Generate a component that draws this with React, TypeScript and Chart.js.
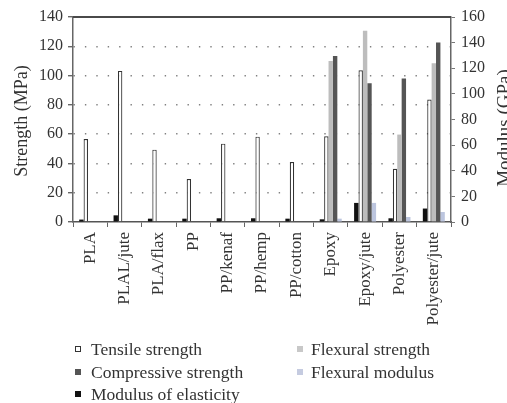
import React, { useEffect, useRef } from "react";
import { Chart, registerables } from "chart.js";

Chart.register(...registerables);

const categories = [
  "PLA",
  "PLAL/jute",
  "PLA/flax",
  "PP",
  "PP/kenaf",
  "PP/hemp",
  "PP/cotton",
  "Epoxy",
  "Epoxy/jute",
  "Polyester",
  "Polyester/jute",
];

// Strength (MPa), left axis
const tensileStrength = [56.7, 103.2, 49.4, 29.3, 53.5, 58.3, 41, 58.5, 103.6, 36.4, 83.7];
const compressiveStrength = [null, null, null, null, null, null, null, 113.4, 94.7, 98, 122.6];
const flexuralStrength = [null, null, null, null, null, null, null, 110, 130.6, 59.7, 108.4];

// Modulus (GPa), right axis
const modulusOfElasticity = [1.9, 5.2, 2.6, 2.6, 2.9, 2.9, 2.6, 2.1, 14.9, 2.9, 10.5];
const flexuralModulus = [null, null, null, null, null, null, null, 2.6, 14.9, 3.9, 7.8];

const strengthAxis = { min: 0, max: 140, step: 20, title: "Strength (MPa)" };
const modulusAxis = { min: 0, max: 160, step: 20, title: "Modulus (GPa)" };

const legendItems = [
  { label: "Tensile strength", color: "#ffffff", border: "#333", col: 0, row: 0 },
  { label: "Compressive strength", color: "#555555", border: "#555555", col: 0, row: 1 },
  { label: "Modulus of elasticity", color: "#111111", border: "#111111", col: 0, row: 2 },
  { label: "Flexural strength", color: "#c8c8c8", border: "#c8c8c8", col: 1, row: 0 },
  { label: "Flexural modulus", color: "#c5cbe0", border: "#c5cbe0", col: 1, row: 1 },
];

const FONT = "'Liberation Serif', 'DejaVu Serif', serif";
const TEXT = "#333333";

const framePlugin = {
  id: "frameAndTitles",
  afterDraw(chart: any) {
    const ctx = chart.ctx;
    const area = chart.chartArea;
    ctx.save();
    ctx.fillStyle = "#4a4a4a";
    ctx.fillRect(area.left, Math.floor(area.top) - 1, area.right - area.left, 2);
    ctx.restore();

    ctx.save();
    ctx.fillStyle = TEXT;
    ctx.textAlign = "center";
    ctx.textBaseline = "alphabetic";
    ctx.font = `18px ${FONT}`;
    ctx.translate(27, 121);
    ctx.rotate(-Math.PI / 2);
    ctx.fillText(strengthAxis.title, 0, 0);
    ctx.restore();

    ctx.save();
    ctx.fillStyle = TEXT;
    ctx.textAlign = "center";
    ctx.textBaseline = "alphabetic";
    ctx.font = `19px ${FONT}`;
    ctx.translate(509.5, 128);
    ctx.rotate(-Math.PI / 2);
    ctx.fillText(modulusAxis.title, 0, 0);
    ctx.restore();
  },
};

export default function App() {
  const ref = useRef<HTMLCanvasElement | null>(null);

  useEffect(() => {
    if (!ref.current) return;
    const chart = new Chart(ref.current, {
      type: "bar",
      data: {
        labels: categories,
        datasets: [
          {
            label: "Modulus of elasticity",
            data: modulusOfElasticity,
            backgroundColor: "#111111",
            yAxisID: "y1",
          },
          {
            label: "Tensile strength",
            data: tensileStrength,
            backgroundColor: "#ffffff",
            borderColor: "#333333",
            borderWidth: 1.2,
            borderSkipped: "bottom",
            yAxisID: "y",
          },
          {
            label: "Flexural strength",
            data: flexuralStrength,
            backgroundColor: "#bdbdbd",
            yAxisID: "y",
          },
          {
            label: "Compressive strength",
            data: compressiveStrength,
            backgroundColor: "#555555",
            yAxisID: "y",
          },
          {
            label: "Flexural modulus",
            data: flexuralModulus,
            backgroundColor: "#bcc5de",
            yAxisID: "y1",
          },
        ] as any,
      },
      options: {
        responsive: false,
        animation: false,
        devicePixelRatio: 1,
        layout: { padding: { top: 17, bottom: 0, left: 0, right: 0 } },
        datasets: {
          bar: { categoryPercentage: 0.64, barPercentage: 1 },
        },
        plugins: {
          legend: { display: false },
          tooltip: { enabled: false },
        },
        scales: {
          x: {
            type: "category",
            position: "bottom",
            offset: true,
            grid: {
              offset: true,
              drawOnChartArea: false,
              drawTicks: true,
              tickLength: 5,
              color: "#666",
            },
            border: { display: true, color: "#555", width: 1.5 },
            ticks: {
              autoSkip: false,
              maxRotation: 90,
              minRotation: 90,
              padding: 5,
              color: TEXT,
              font: { family: FONT, size: 17 },
            },
            afterFit: (scale: any) => {
              scale.height = 181;
            },
          },
          y: {
            type: "linear",
            position: "left",
            min: strengthAxis.min,
            max: strengthAxis.max,
            ticks: {
              stepSize: strengthAxis.step,
              padding: 5,
              color: TEXT,
              font: { family: FONT, size: 16 },
            },
            grid: {
              drawTicks: true,
              tickLength: 5,
              tickColor: "#666",
              tickBorderDash: [],
              color: (c: any) =>
                c.tick && (c.tick.value === 0 || c.tick.value === strengthAxis.max)
                  ? "rgba(0,0,0,0)"
                  : "#808080",
              lineWidth: 1.4,
            },
            border: { display: true, color: "#666", width: 1.5, dash: [1.4, 10] },
            afterFit: (scale: any) => {
              scale.width = 73;
            },
          },
          y1: {
            type: "linear",
            position: "right",
            min: modulusAxis.min,
            max: modulusAxis.max,
            ticks: {
              stepSize: modulusAxis.step,
              padding: 6,
              color: TEXT,
              font: { family: FONT, size: 16 },
            },
            grid: {
              drawOnChartArea: false,
              drawTicks: true,
              tickLength: 4,
              tickColor: "#777",
            },
            border: { display: true, color: "#666", width: 1.5 },
            afterFit: (scale: any) => {
              scale.width = 56;
            },
          },
        },
      } as any,
      plugins: [framePlugin],
    });
    return () => chart.destroy();
  }, []);

  const rowY = [349, 372, 394];
  const markerX = [75, 297];
  const textX = [91, 311];

  return (
    <div
      style={{
        position: "fixed",
        left: 0,
        top: 0,
        width: 507,
        height: 403,
        overflow: "hidden",
        background: "#fff",
      }}
    >
      <canvas ref={ref} width={507} height={403} style={{ position: "absolute", left: 0, top: 0 }} />
      {legendItems.map((it) => (
        <React.Fragment key={it.label}>
          <div
            style={{
              position: "absolute",
              left: markerX[it.col],
              top: rowY[it.row] - 3,
              width: 6,
              height: 6,
              boxSizing: "border-box",
              background: it.color,
              border: `1.2px solid ${it.border}`,
            }}
          />
          <div
            style={{
              position: "absolute",
              left: textX[it.col],
              top: rowY[it.row] - 12,
              height: 24,
              lineHeight: "24px",
              fontFamily: FONT,
              fontSize: 17.5,
              color: TEXT,
              whiteSpace: "nowrap",
            }}
          >
            {it.label}
          </div>
        </React.Fragment>
      ))}
    </div>
  );
}
